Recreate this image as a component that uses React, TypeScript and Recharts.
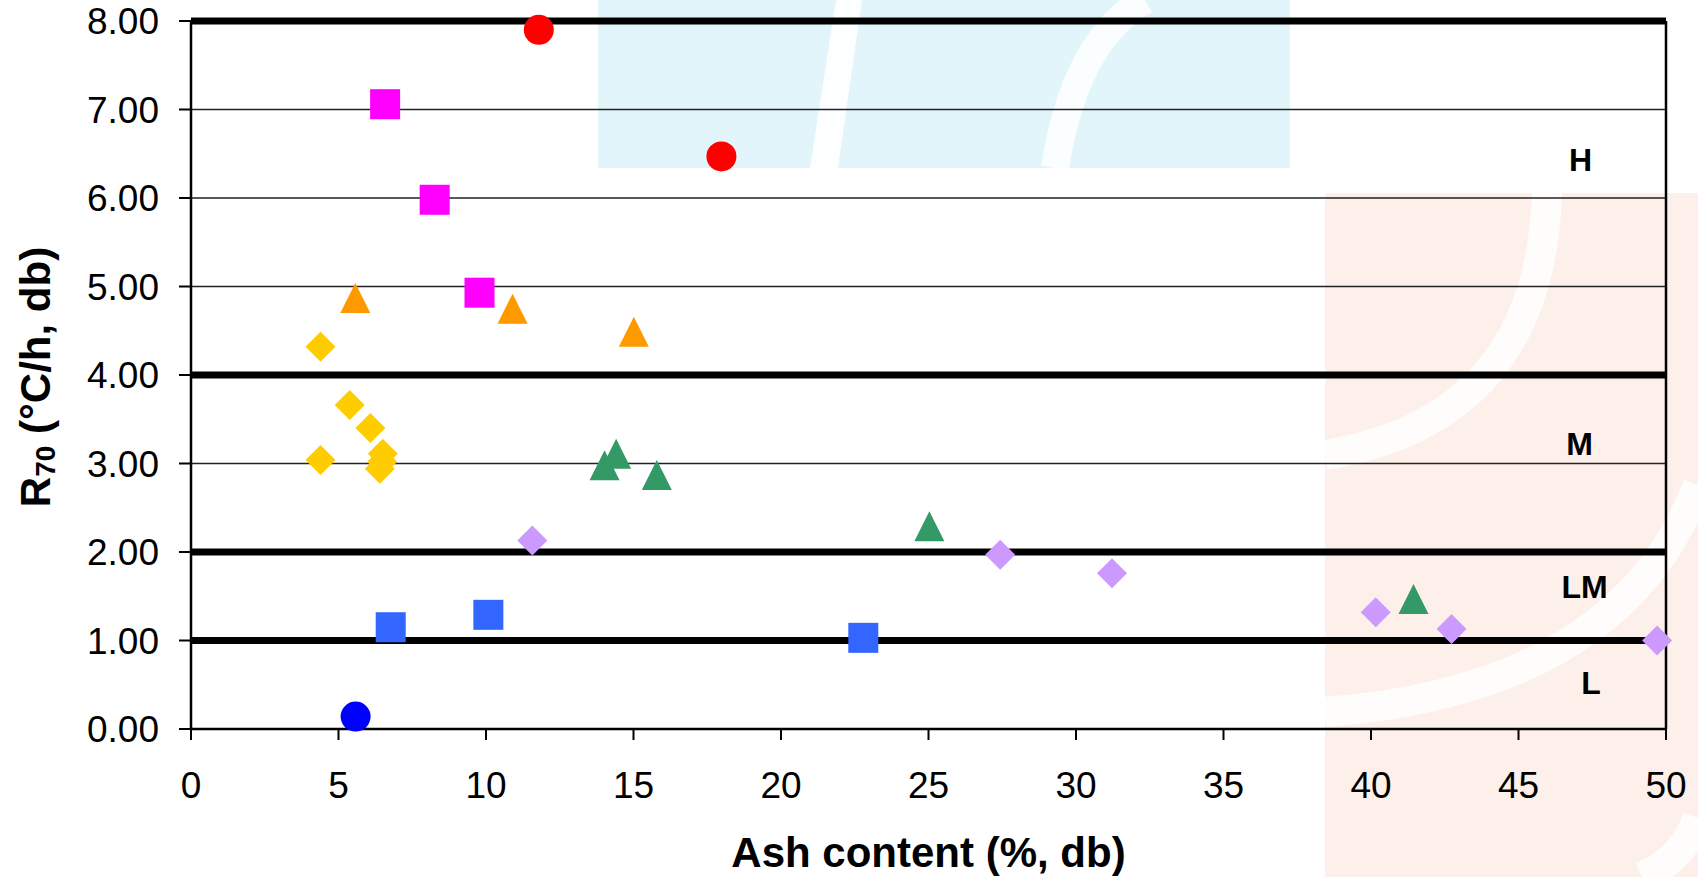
import React from "react";
import {
  Label,
  ReferenceLine,
  Scatter,
  ScatterChart,
  XAxis,
  YAxis,
} from "recharts";

// R70 vs ash content scatter, grouped by reactivity class (H / M / LM / L).

const xTicks = [0, 5, 10, 15, 20, 25, 30, 35, 40, 45, 50];
const yTicks = [0, 1, 2, 3, 4, 5, 6, 7, 8];
const classBounds = [1, 2, 4, 8];
const thinGrid = [3, 5, 6, 7];

const redCircles = [
  { x: 11.79, y: 7.9 },
  { x: 17.98, y: 6.47 },
];
const blueCircles = [{ x: 5.58, y: 0.14 }];
const magentaSquares = [
  { x: 6.58, y: 7.06 },
  { x: 8.26, y: 5.98 },
  { x: 9.78, y: 4.93 },
];
const blueSquares = [
  { x: 6.77, y: 1.15 },
  { x: 10.08, y: 1.29 },
  { x: 22.79, y: 1.03 },
];
const orangeTriangles = [
  { x: 5.57, y: 4.87 },
  { x: 10.9, y: 4.75 },
  { x: 15.01, y: 4.49 },
];
const greenTriangles = [
  { x: 14.02, y: 2.98 },
  { x: 14.41, y: 3.11 },
  { x: 15.79, y: 2.87 },
  { x: 25.03, y: 2.29 },
  { x: 41.44, y: 1.47 },
];
const yellowDiamonds = [
  { x: 4.39, y: 4.32 },
  { x: 5.38, y: 3.66 },
  { x: 6.08, y: 3.4 },
  { x: 4.39, y: 3.04 },
  { x: 6.5, y: 3.11 },
  { x: 6.48, y: 3.02 },
  { x: 6.4, y: 2.94 },
];
const lilacDiamonds = [
  { x: 11.57, y: 2.13 },
  { x: 27.43, y: 1.97 },
  { x: 31.22, y: 1.76 },
  { x: 40.16, y: 1.32 },
  { x: 42.73, y: 1.13 },
  { x: 49.7, y: 1.0 },
];
const zoneLabels = [
  { x: 47.1, y: 6.43, label: "H" },
  { x: 47.07, y: 3.22, label: "M" },
  { x: 47.24, y: 1.61, label: "LM" },
  { x: 47.46, y: 0.52, label: "L" },
];

const FONT = "'Liberation Sans', Arial, sans-serif";
const S = 15; // half of marker box

const marker = (kind: string, color: string) => (p: any) => {
  const { cx, cy } = p;
  if (cx == null || cy == null) return <g />;
  if (kind === "circle") return <ellipse cx={cx} cy={cy} rx={S} ry={S} fill={color} />;
  if (kind === "square")
    return <rect x={cx - S} y={cy - S} width={2 * S} height={2 * S} fill={color} />;
  if (kind === "triangle")
    return (
      <polygon
        points={`${cx},${cy - S} ${cx + S},${cy + S} ${cx - S},${cy + S}`}
        fill={color}
      />
    );
  return (
    <polygon
      points={`${cx},${cy - S} ${cx + S},${cy} ${cx},${cy + S} ${cx - S},${cy}`}
      fill={color}
    />
  );
};

const zoneText = (p: any) => (
  <text
    x={p.cx}
    y={p.cy}
    textAnchor="middle"
    dominantBaseline="central"
    fontFamily={FONT}
    fontWeight={700}
    fontSize={32}
    fill="#000"
  >
    {p.payload.label}
  </text>
);

const YTitle = () => (
  <text
    transform="translate(50, 377) rotate(-90)"
    textAnchor="middle"
    fontFamily={FONT}
    fontWeight={700}
    fontSize={42}
    fill="#000"
  >
    R
    <tspan fontSize={28} dy={5}>
      70
    </tspan>
    <tspan dy={-5}> (°C/h, db)</tspan>
  </text>
);

function Backdrop() {
  return (
    <svg
      width={1698}
      height={877}
      style={{ position: "absolute", left: 0, top: 0 }}
    >
      <rect x={598} y={0} width={692} height={168} fill="#E2F5FB" />
      <polygon points="810,168 838,168 862,0 836,0" fill="#fff" opacity={0.9} />
      <path d="M1055,168 Q1075,40 1145,0" stroke="#fff" strokeWidth={28} fill="none" opacity={0.85} />
      <rect x={1325} y={193} width={373} height={684} fill="#FDF0EB" />
      <path d="M1547,193 Q1540,420 1325,455" stroke="#fff" strokeWidth={30} fill="none" opacity={0.85} />
      <path d="M1698,485 Q1620,690 1325,712" stroke="#fff" strokeWidth={30} fill="none" opacity={0.85} />
      <path d="M1698,818 Q1682,860 1642,877" stroke="#fff" strokeWidth={30} fill="none" opacity={0.85} />
    </svg>
  );
}

export default function App() {
  const tick = { fill: "#000", fontSize: 37, fontFamily: FONT };
  const line = { stroke: "#000", strokeWidth: 2.5 };
  return (
    <div style={{ position: "absolute", left: 0, top: 0, width: 1698, height: 877, background: "#fff" }}>
      <Backdrop />
      <div style={{ position: "absolute", left: 0, top: 0 }}>
        <ScatterChart
          width={1698}
          height={877}
          margin={{ top: 21, right: 32, bottom: 0, left: 0 }}
        >
          <XAxis
            type="number"
            dataKey="x"
            domain={[0, 50]}
            ticks={xTicks}
            interval={0}
            height={148}
            tick={tick}
            tickSize={11}
            tickMargin={32}
            tickLine={{ stroke: "#000", strokeWidth: 2 }}
            axisLine={line}
          >
            <Label
              value="Ash content (%, db)"
              position="insideBottom"
              offset={10}
              style={{ fontSize: 42, fontWeight: 700, fill: "#000", fontFamily: FONT }}
            />
          </XAxis>
          <YAxis
            type="number"
            dataKey="y"
            domain={[0, 8]}
            ticks={yTicks}
            interval={0}
            width={191}
            tick={tick}
            tickSize={12}
            tickMargin={20}
            tickLine={{ stroke: "#000", strokeWidth: 2 }}
            axisLine={line}
            tickFormatter={(v: number) => v.toFixed(2)}
          >
            <Label content={YTitle} />
          </YAxis>
          {thinGrid.map((v) => (
            <ReferenceLine key={`g${v}`} y={v} stroke="#222" strokeWidth={1.3} />
          ))}
          {classBounds.map((v) => (
            <ReferenceLine key={`b${v}`} y={v} stroke="#000" strokeWidth={7} />
          ))}
          <ReferenceLine x={50} stroke="#000" strokeWidth={2.5} />
          <Scatter data={zoneLabels} shape={zoneText} isAnimationActive={false} />
          <Scatter data={yellowDiamonds} shape={marker("diamond", "#FFCC00")} isAnimationActive={false} />
          <Scatter data={lilacDiamonds} shape={marker("diamond", "#CC99FF")} isAnimationActive={false} />
          <Scatter data={greenTriangles} shape={marker("triangle", "#339966")} isAnimationActive={false} />
          <Scatter data={orangeTriangles} shape={marker("triangle", "#FF9900")} isAnimationActive={false} />
          <Scatter data={blueSquares} shape={marker("square", "#3366FF")} isAnimationActive={false} />
          <Scatter data={magentaSquares} shape={marker("square", "#FF00FF")} isAnimationActive={false} />
          <Scatter data={blueCircles} shape={marker("circle", "#0000FF")} isAnimationActive={false} />
          <Scatter data={redCircles} shape={marker("circle", "#FF0000")} isAnimationActive={false} />
        </ScatterChart>
      </div>
    </div>
  );
}
